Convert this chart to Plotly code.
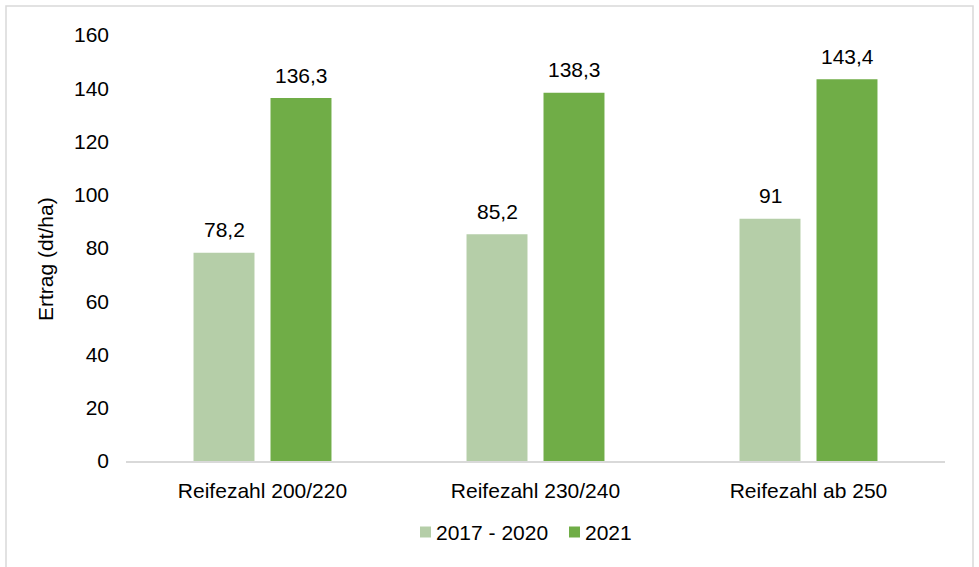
import plotly.graph_objects as go

categories = ["Reifezahl 200/220", "Reifezahl 230/240", "Reifezahl ab 250"]
series_names = ["2017 - 2020", "2021"]
values_2017_2020 = [78.2, 85.2, 91.0]
values_2021 = [136.3, 138.3, 143.4]
y_ticks = [0, 20, 40, 60, 80, 100, 120, 140, 160]

colors = ["#B5CEA8", "#70AD47"]
font_family = "Arial, Liberation Sans, sans-serif"
font_size = 21

# plot area in pixels (used to place items outside the axes)
PLOT_L, PLOT_R, PLOT_T, PLOT_B = 126, 945, 35, 461
PLOT_W, PLOT_H = PLOT_R - PLOT_L, PLOT_B - PLOT_T


def px_x(px):
    return (px - PLOT_L) / PLOT_W


def px_y(py):
    return (PLOT_B - py) / PLOT_H


def de_number(v):
    return f"{v:g}".replace(".", ",")


fig = go.Figure()
for name, vals, col in zip(series_names, [values_2017_2020, values_2021], colors):
    fig.add_trace(go.Bar(
        x=categories, y=vals, name=name,
        marker=dict(color=col, line=dict(width=0)),
        showlegend=False,
    ))

# value labels above each bar (grouped offset of half a slot)
slot_px = 77
for vals, shift in [(values_2017_2020, -slot_px / 2), (values_2021, slot_px / 2)]:
    for cat, v in zip(categories, vals):
        fig.add_annotation(
            x=cat, y=v, text=de_number(v), showarrow=False,
            xshift=shift, yshift=23, yanchor="middle",
            font=dict(family=font_family, size=font_size, color="#000000"),
        )

# y axis title
fig.add_annotation(
    xref="paper", yref="paper", x=px_x(45), y=px_y(259),
    text="Ertrag (dt/ha)", textangle=-90, showarrow=False,
    xanchor="center", yanchor="middle",
    font=dict(family=font_family, size=font_size, color="#000000"),
)

# legend: colour square followed by the series name
legend_items = [(series_names[0], colors[0], 420), (series_names[1], colors[1], 569)]
legend_y = 532
for name, col, x0 in legend_items:
    fig.add_shape(
        type="rect", xref="paper", yref="paper",
        x0=px_x(x0), x1=px_x(x0 + 11), y0=px_y(legend_y + 5.5), y1=px_y(legend_y - 5.5),
        fillcolor=col, line=dict(width=0),
    )
    fig.add_annotation(
        xref="paper", yref="paper", x=px_x(x0 + 14), y=px_y(legend_y),
        text=name, showarrow=False, xanchor="left", yanchor="middle",
        font=dict(family=font_family, size=font_size, color="#000000"),
    )

# outer chart frame
fig.add_shape(
    type="rect", xref="paper", yref="paper",
    x0=px_x(6), x1=px_x(973), y0=px_y(575), y1=px_y(6),
    line=dict(color="#D9D9D9", width=1.5), fillcolor="rgba(0,0,0,0)",
)

fig.update_layout(
    width=979, height=567,
    margin=dict(l=PLOT_L, r=979 - PLOT_R, t=PLOT_T, b=567 - PLOT_B),
    paper_bgcolor="white", plot_bgcolor="white",
    barmode="group", bargap=0.436, bargroupgap=0.208,
    font=dict(family=font_family, size=font_size, color="#000000"),
    showlegend=False,
    xaxis=dict(
        showline=True, linecolor="#D9D9D9", linewidth=2,
        ticks="", showgrid=False, zeroline=False,
        ticklabelstandoff=10,
    ),
    yaxis=dict(
        range=[0, 160], tickvals=y_ticks, ticktext=[str(t) for t in y_ticks],
        showgrid=False, zeroline=False, showline=False, ticks="",
        ticklabelstandoff=16,
    ),
)

fig.write_html("out.html")
